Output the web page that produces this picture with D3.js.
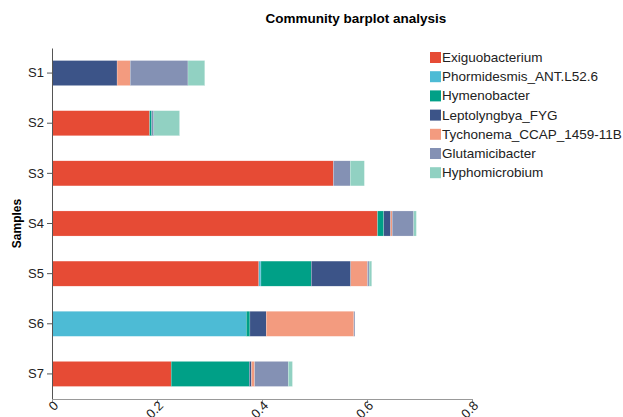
<!DOCTYPE html>
<html>
<head>
<meta charset="utf-8">
<script src="https://cdn.jsdelivr.net/npm/d3@7"></script>
<style>
  body { margin: 0; background: #fff; }
  text { font-family: "Liberation Sans", Arial, sans-serif; }
</style>
</head>
<body>
<div id="chart"></div>
<script>
// samples (top to bottom)
var samples = ["S1", "S2", "S3", "S4", "S5", "S6", "S7"];
// taxa, in stacking order
var taxa = ["Exiguobacterium", "Phormidesmis_ANT.L52.6", "Hymenobacter", "Leptolyngbya_FYG",
            "Tychonema_CCAP_1459-11B", "Glutamicibacter", "Hyphomicrobium"];
var colors = ["#E64B35", "#4DBBD5", "#00A087", "#3C5488", "#F39B7F", "#8491B4", "#91D1C2"];
// relative abundance per taxon, one value per sample S1..S7
var exiguobacterium = [0.000, 0.186, 0.536, 0.620, 0.394, 0.000, 0.227];
var phormidesmis    = [0.000, 0.000, 0.000, 0.000, 0.004, 0.370, 0.000];
var hymenobacter    = [0.001, 0.004, 0.000, 0.012, 0.096, 0.007, 0.149];
var leptolyngbya    = [0.123, 0.000, 0.000, 0.013, 0.075, 0.031, 0.004];
var tychonema       = [0.025, 0.000, 0.000, 0.003, 0.032, 0.167, 0.006];
var glutamicibacter = [0.110, 0.004, 0.032, 0.041, 0.003, 0.002, 0.064];
var hyphomicrobium  = [0.032, 0.049, 0.027, 0.005, 0.005, 0.000, 0.008];
var xTicks = [0, 0.2, 0.4, 0.6, 0.8];

var series = [exiguobacterium, phormidesmis, hymenobacter, leptolyngbya, tychonema, glutamicibacter, hyphomicrobium];
var rows = samples.map(function (s, i) {
	var r = {sample: s};
	taxa.forEach(function (t, j) { r[t] = series[j][i]; });
	return r;
});

var width = 623, height = 417;
var margin = {top: 48, right: 151, bottom: 18, left: 52};

var svg = d3.select("#chart").append("svg")
	.attr("width", width)
	.attr("height", height);

var x = d3.scaleLinear()
	.domain([0, 0.8])
	.range([margin.left, width - margin.right]);

var y = d3.scaleBand()
	.domain(samples)
	.range([margin.top, height - margin.bottom])
	.paddingInner(0.5)
	.paddingOuter(0.25);

var stack = d3.stack().keys(taxa)(rows);

var layer = svg.append("g").selectAll("g")
	.data(stack)
	.enter().append("g")
	.attr("fill", function (d, i) { return colors[i]; });

layer.selectAll("rect")
	.data(function (d) { return d; })
	.enter().append("rect")
	.attr("x", function (d) { return x(d[0]); })
	.attr("y", function (d) { return y(d.data.sample); })
	.attr("width", function (d) { return Math.max(0, x(d[1]) - x(d[0])); })
	.attr("height", y.bandwidth())
	.attr("stroke", "#fff")
	.attr("stroke-opacity", 0.5)
	.attr("stroke-width", 0.4);

// y axis
var yAxis = svg.append("g")
	.attr("transform", "translate(" + margin.left + ",0)")
	.call(d3.axisLeft(y).tickSize(5).tickPadding(3).tickSizeOuter(0));
yAxis.select(".domain").attr("stroke", "#555");
yAxis.selectAll(".tick line").attr("stroke", "#555");
yAxis.selectAll("text")
	.attr("font-size", "13px")
	.attr("fill", "#222");

// x axis
var xAxis = svg.append("g")
	.attr("transform", "translate(0," + (height - margin.bottom) + ")")
	.call(d3.axisBottom(x).tickValues(xTicks).tickFormat(d3.format("")).tickSize(4).tickSizeOuter(0));
xAxis.select(".domain").attr("stroke", "#999");
xAxis.selectAll(".tick line").attr("stroke", "#999");
xAxis.selectAll("text")
	.attr("font-size", "13px")
	.attr("fill", "#222")
	.attr("text-anchor", "end")
	.attr("y", 0)
	.attr("dx", "-0.5px")
	.attr("dy", "10px")
	.attr("transform", "rotate(-45)");

// y title
svg.append("text")
	.attr("transform", "translate(21," + ((margin.top + height - margin.bottom) / 2) + ") rotate(-90)")
	.attr("text-anchor", "middle")
	.attr("font-size", "12px")
	.attr("font-weight", "bold")
	.text("Samples");

// title
svg.append("text")
	.attr("x", 356)
	.attr("y", 23)
	.attr("text-anchor", "middle")
	.attr("font-size", "13.5px")
	.attr("font-weight", "bold")
	.text("Community barplot analysis");

// legend
var legend = svg.append("g")
	.attr("transform", "translate(430,52)");
var item = legend.selectAll("g")
	.data(taxa)
	.enter().append("g")
	.attr("transform", function (d, i) { return "translate(0," + (i * 19.2) + ")"; });
item.append("rect")
	.attr("width", 11)
	.attr("height", 11)
	.attr("fill", function (d, i) { return colors[i]; });
item.append("text")
	.attr("x", 12)
	.attr("y", 10)
	.attr("font-size", "13.5px")
	.attr("fill", "#222")
	.text(function (d) { return d; });
</script>
</body>
</html>
